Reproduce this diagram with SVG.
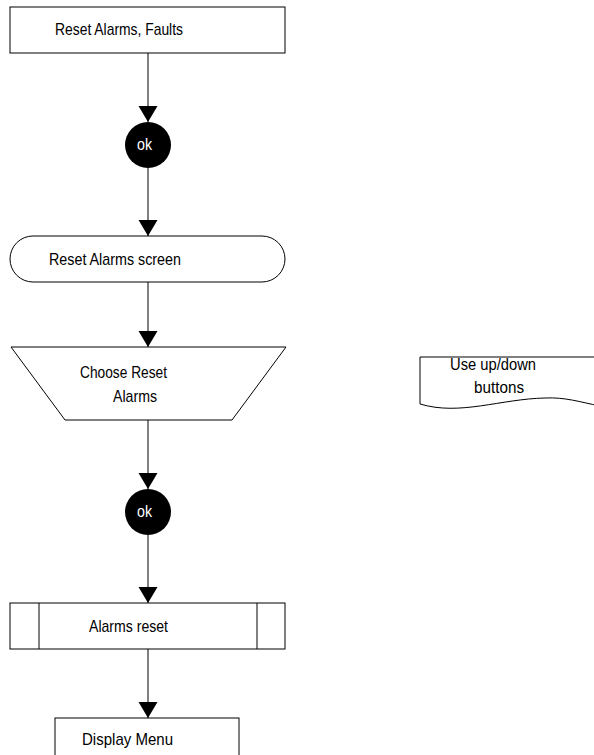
<svg xmlns="http://www.w3.org/2000/svg" width="594" height="755" viewBox="0 0 594 755">
<style>
.box{fill:#fff;stroke:#000;stroke-width:1}
.t{font-family:"Liberation Sans",Arial,sans-serif;font-size:17px;fill:#000}
.w{font-family:"Liberation Sans",Arial,sans-serif;font-size:17px;fill:#fff}
.c{stroke:#000;stroke-width:1;fill:none}
</style>
<defs>
<marker id="ah" markerUnits="userSpaceOnUse" markerWidth="17" markerHeight="20" refX="16" refY="9.5" orient="auto" viewBox="0 0 17 20">
<path d="M0,0 L16,9.5 L0,19 z" fill="#000"/>
</marker>
</defs>
<rect width="594" height="755" fill="#fff"/>
<g id="connectors">
<line class="c" x1="148" y1="53" x2="148" y2="122" marker-end="url(#ah)"/>
<line class="c" x1="148" y1="168" x2="148" y2="236" marker-end="url(#ah)"/>
<line class="c" x1="148" y1="282" x2="148" y2="347" marker-end="url(#ah)"/>
<line class="c" x1="148" y1="420" x2="148" y2="489" marker-end="url(#ah)"/>
<line class="c" x1="148" y1="535" x2="148" y2="603" marker-end="url(#ah)"/>
<line class="c" x1="148" y1="649" x2="148" y2="718" marker-end="url(#ah)"/>
</g>
<g id="n1">
<rect class="box" x="10" y="7" width="275" height="46"/>
<text class="t" x="55" y="35" textLength="128" lengthAdjust="spacingAndGlyphs">Reset Alarms, Faults</text>
</g>
<g id="ok1">
<circle cx="148" cy="145" r="23" fill="#000"/>
<text class="w" x="137" y="150" textLength="15" lengthAdjust="spacingAndGlyphs">ok</text>
</g>
<g id="n2">
<rect class="box" x="10" y="236" width="275" height="46" rx="23" ry="23"/>
<text class="t" x="49" y="265" textLength="132" lengthAdjust="spacingAndGlyphs">Reset Alarms  screen</text>
</g>
<g id="n3">
<polygon class="box" points="11,347 286,347 232,420 65,420"/>
<text class="t" x="80" y="378" textLength="87" lengthAdjust="spacingAndGlyphs">Choose Reset</text>
<text class="t" x="113" y="402" textLength="44" lengthAdjust="spacingAndGlyphs">Alarms</text>
</g>
<g id="ok2">
<circle cx="148" cy="512" r="23" fill="#000"/>
<text class="w" x="137" y="517" textLength="15" lengthAdjust="spacingAndGlyphs">ok</text>
</g>
<g id="n4">
<rect class="box" x="10" y="603" width="275" height="46"/>
<line class="c" x1="39" y1="603" x2="39" y2="649"/>
<line class="c" x1="257" y1="603" x2="257" y2="649"/>
<text class="t" x="89" y="632" textLength="79" lengthAdjust="spacingAndGlyphs">Alarms reset</text>
</g>
<g id="n5">
<rect class="box" x="55" y="718" width="184" height="50"/>
<text class="t" x="82" y="745" textLength="91" lengthAdjust="spacingAndGlyphs">Display  Menu</text>
</g>
<g id="note">
<path class="box" d="M420,357 L600,357 L600,406 C580,402 565,397 545,398 C500,399 460,416 420,404 Z"/>
<text class="t" x="450" y="370" textLength="86" lengthAdjust="spacingAndGlyphs">Use up/down</text>
<text class="t" x="474" y="393" textLength="50" lengthAdjust="spacingAndGlyphs">buttons</text>
</g>
</svg>
